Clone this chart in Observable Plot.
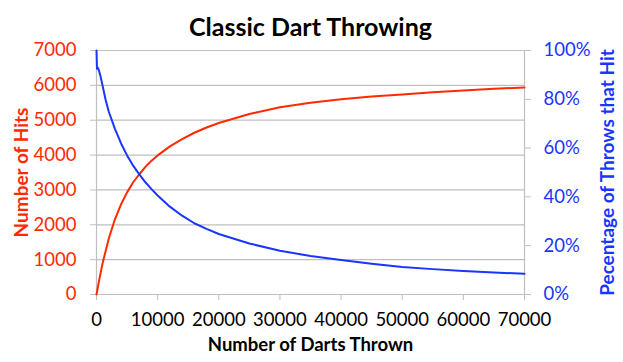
<!DOCTYPE html>
<html><head><meta charset="utf-8">
<script src="https://cdn.jsdelivr.net/npm/d3@7"></script>
<script src="https://cdn.jsdelivr.net/npm/@observablehq/plot@0.6"></script>
<style>body{margin:0;background:#fff} svg{display:block}</style>
</head><body><div id="chart"></div>
<script>
// Red series: number of hits vs darts thrown
const hitDarts = [0, 500, 1000, 2000, 3000, 4000, 5000, 6000, 7000, 8000, 9000, 10000, 12000, 14000, 16000, 18000, 20000, 25000, 30000, 35000, 40000, 45000, 50000, 55000, 60000, 65000, 70000];
const hits     = [0, 470, 900, 1600, 2150, 2580, 2930, 3220, 3450, 3660, 3840, 3990, 4250, 4460, 4640, 4790, 4920, 5180, 5370, 5500, 5600, 5680, 5740, 5800, 5850, 5900, 5940];
// Blue series: percentage of throws that hit
const pctDarts = [0, 80, 200, 375, 650, 1000, 1500, 2000, 3000, 4000, 5000, 6000, 7000, 8000, 9000, 10000, 12000, 14000, 16000, 18000, 20000, 25000, 30000, 35000, 40000, 45000, 50000, 55000, 60000, 65000, 70000];
const pct      = [100, 92.5, 93, 92, 89.5, 85.5, 79.7, 75, 68, 62, 57, 52.8, 49.2, 46, 43.2, 40.6, 36, 32.3, 29.2, 26.9, 24.8, 20.9, 17.9, 15.8, 14.1, 12.6, 11.3, 10.4, 9.6, 9.0, 8.5];

const leftTicks  = [0, 1000, 2000, 3000, 4000, 5000, 6000, 7000];
const rightTicks = [0, 20, 40, 60, 80, 100];
const xTicks     = [0, 10000, 20000, 30000, 40000, 50000, 60000, 70000];

const red = "#ff2a00", blue = "#1a35ff", grid = "#bfbfbf";
const PCT_TO_Y = 7000 / 100;

const hitsData = hitDarts.map((d, i) => ({darts: d, value: hits[i]}));
const pctData  = pctDarts.map((d, i) => ({darts: d, value: pct[i] * PCT_TO_Y}));
const fmt = d3.format("d");

const chart = Plot.plot({
  width: 623, height: 362,
  marginLeft: 96, marginRight: 99, marginTop: 50, marginBottom: 68,
  style: {fontFamily: "Lato, 'Open Sans', sans-serif", fontSize: "18px", background: "#fff"},
  x: {domain: [0, 70000]},
  y: {domain: [0, 7000]},
  marks: [
    Plot.gridY(leftTicks, {stroke: grid, strokeOpacity: 1, strokeWidth: 1.2}),
    Plot.ruleX([0, 70000], {stroke: grid, strokeWidth: 1.2}),
    Plot.ruleY([0], {stroke: grid, strokeWidth: 1.2}),
    // left axis
    Plot.axisY(leftTicks, {anchor: "left", tickSize: 6, tickFormat: () => "", color: grid, label: null}),
    Plot.axisY(leftTicks, {anchor: "left", tickSize: 0, tickPadding: 20, tickFormat: fmt, color: red, label: null, fontSize: 18.5}),
    // right axis
    Plot.axisY(rightTicks.map(p => p * PCT_TO_Y), {anchor: "right", tickSize: 6, tickFormat: () => "", color: grid, label: null}),
    Plot.axisY(rightTicks.map(p => p * PCT_TO_Y), {anchor: "right", tickSize: 0, tickPadding: 19, tickFormat: d => Math.round(d / PCT_TO_Y) + "%", color: blue, label: null, fontSize: 18.5}),
    // bottom axis
    Plot.axisX(xTicks, {anchor: "bottom", tickSize: 6, tickFormat: () => "", color: grid, label: null}),
    Plot.axisX(xTicks, {anchor: "bottom", tickSize: 0, tickPadding: 18, tickFormat: fmt, color: "#000", label: null, fontSize: 18.5}),
    // series
    Plot.line(hitsData, {x: "darts", y: "value", stroke: red, strokeWidth: 2}),
    Plot.line(pctData, {x: "darts", y: "value", stroke: blue, strokeWidth: 2}),
    // titles
    Plot.text(["Classic Dart Throwing"], {frameAnchor: "top", dy: -32, fontSize: 25, fontWeight: "bold", fill: "#000"}),
    Plot.text(["Number of Darts Thrown"], {frameAnchor: "bottom", dy: 56, fontSize: 18.5, fontWeight: "bold", fill: "#000"}),
    Plot.text(["Number of Hits"], {frameAnchor: "left", textAnchor: "middle", dx: -75, rotate: -90, fontSize: 19, fontWeight: "bold", fill: red}),
    Plot.text(["Pecentage of Throws that Hit"], {frameAnchor: "right", textAnchor: "middle", dx: 83, rotate: -90, fontSize: 19, fontWeight: "bold", fill: blue})
  ]
});
document.getElementById("chart").appendChild(chart);
</script>
</body></html>
